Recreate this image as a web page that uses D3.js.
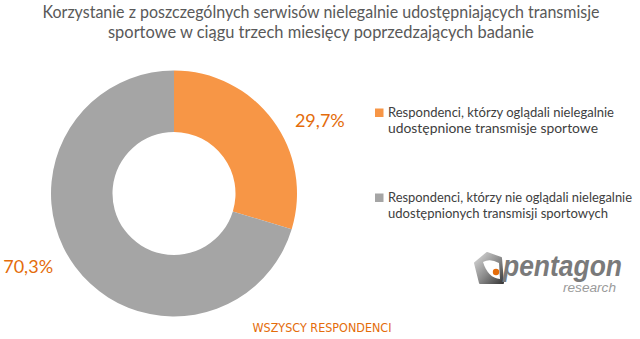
<!DOCTYPE html>
<html>
<head>
<meta charset="utf-8">
<script src="https://cdn.jsdelivr.net/npm/d3@7"></script>
<style>
  html, body { margin: 0; padding: 0; background: #fff; }
  svg { display: block; }
</style>
</head>
<body>
<div id="chart"></div>
<script>
// Share of respondents (%)
const categories = [
  "Respondenci, którzy oglądali nielegalnie udostępnione transmisje sportowe",
  "Respondenci, którzy nie oglądali nielegalnie udostępnionych transmisji sportowych"
];
const values = [29.7, 70.3];
const valueLabels = ["29,7%", "70,3%"];
const legendLines = [
  ["Respondenci, którzy oglądali nielegalnie", "udostępnione transmisje sportowe"],
  ["Respondenci, którzy nie oglądali nielegalnie", "udostępnionych transmisji sportowych"]
];
const titleLines = [
  "Korzystanie z poszczególnych serwisów nielegalnie udostępniających transmisje",
  "sportowe w ciągu trzech miesięcy poprzedzających badanie"
];
const subtitle = "WSZYSCY RESPONDENCI";

const W = 640, H = 339;
const svg = d3.select("#chart").append("svg").attr("width", W).attr("height", H);
const font = "Lato, 'Open Sans', 'Liberation Sans', sans-serif";

const color = d3.scaleOrdinal().domain(categories).range(["#F79646", "#A5A5A5"]);

// Title
const titleWidths = [557, 426];
svg.append("g").selectAll("text").data(titleLines).join("text")
  .attr("x", 321).attr("y", (d, i) => 18 + i * 20)
  .attr("text-anchor", "middle")
  .attr("font-family", font).attr("font-size", 16.5)
  .attr("fill", "#595959")
  .attr("textLength", (d, i) => titleWidths[i])
  .attr("lengthAdjust", "spacingAndGlyphs")
  .text(d => d);

// Donut
const cx = 174, cy = 193.5, rOuter = 123, rInner = 61.5;
const pie = d3.pie().sort(null).value(d => d.v);
const arcs = pie(values.map((v, i) => ({ v, c: categories[i], label: valueLabels[i] })));
const arc = d3.arc().innerRadius(rInner).outerRadius(rOuter);
const g = svg.append("g").attr("transform", `translate(${cx},${cy})`);
g.selectAll("path").data(arcs).join("path")
  .attr("d", arc)
  .attr("fill", d => color(d.data.c));

// Value labels outside the ring
const labelR = 163, labelShift = 0.175;
g.selectAll("text.val").data(arcs).join("text")
  .attr("class", "val")
  .attr("x", d => labelR * Math.sin((d.startAngle + d.endAngle) / 2 + labelShift))
  .attr("y", d => -labelR * Math.cos((d.startAngle + d.endAngle) / 2 + labelShift))
  .attr("dy", "0.35em")
  .attr("text-anchor", "middle")
  .attr("font-family", font).attr("font-size", 18)
  .attr("fill", "#E46C0A")
  .text(d => d.data.label);

// Legend
const legend = svg.append("g").attr("transform", "translate(375,0)");
const legendY = [117, 202];
const item = legend.selectAll("g").data(categories).join("g")
  .attr("transform", (d, i) => `translate(0,${legendY[i]})`);
item.append("rect")
  .attr("x", 0).attr("y", -8.5).attr("width", 8.5).attr("height", 8.5)
  .attr("fill", d => color(d));
const legendWidths = [[226, 210], [244, 220]];
item.each(function(d, i) {
  d3.select(this).selectAll("text").data(legendLines[i]).join("text")
    .attr("x", 13).attr("y", (t, j) => j * 16)
    .attr("font-family", font).attr("font-size", 13)
    .attr("fill", "#404040")
    .attr("textLength", (t, j) => legendWidths[i][j])
    .attr("lengthAdjust", "spacingAndGlyphs")
    .text(t => t);
});

// Subtitle
svg.append("text")
  .attr("x", 322).attr("y", 332)
  .attr("text-anchor", "middle")
  .attr("font-family", "'DejaVu Sans', Verdana, sans-serif").attr("font-size", 11.5)
  .attr("fill", "#E46C0A")
  .attr("textLength", 139).attr("lengthAdjust", "spacingAndGlyphs")
  .text(subtitle);

// Logo
const logo = svg.append("g");
const defs = svg.append("defs");
const grad = defs.append("linearGradient").attr("id", "logoGrad")
  .attr("x1", "0").attr("y1", "0").attr("x2", "1").attr("y2", "1");
grad.append("stop").attr("offset", "0%").attr("stop-color", "#dcdcdc");
grad.append("stop").attr("offset", "55%").attr("stop-color", "#8a8a8a");
grad.append("stop").attr("offset", "100%").attr("stop-color", "#3a3a3a");
logo.append("path")
  .attr("d", "M475,263 L487,253 L501,258 L503,283 L480,283 Z")
  .attr("fill", "url(#logoGrad)")
  .attr("stroke", "url(#logoGrad)").attr("stroke-width", 2).attr("stroke-linejoin", "round");
logo.append("path")
  .attr("d", "M483,262 Q490,258 499,263 L500,279 Q488,278 483,262 Z")
  .attr("fill", "#ffffff");
logo.append("circle").attr("cx", 496).attr("cy", 272).attr("r", 3.2).attr("fill", "#E46C0A");
logo.append("text")
  .attr("x", 503).attr("y", 276)
  .attr("font-family", "'Liberation Sans', Arial, sans-serif")
  .attr("font-size", 29).attr("font-style", "italic").attr("font-weight", "bold")
  .attr("fill", "#7a7a7a")
  .attr("textLength", 119).attr("lengthAdjust", "spacingAndGlyphs")
  .text("pentagon");
logo.append("text")
  .attr("x", 563).attr("y", 292)
  .attr("font-family", "'Liberation Sans', Arial, sans-serif")
  .attr("font-size", 12.5).attr("font-style", "italic")
  .attr("fill", "#9a9a9a")
  .attr("textLength", 53).attr("lengthAdjust", "spacingAndGlyphs")
  .text("research");
</script>
</body>
</html>
